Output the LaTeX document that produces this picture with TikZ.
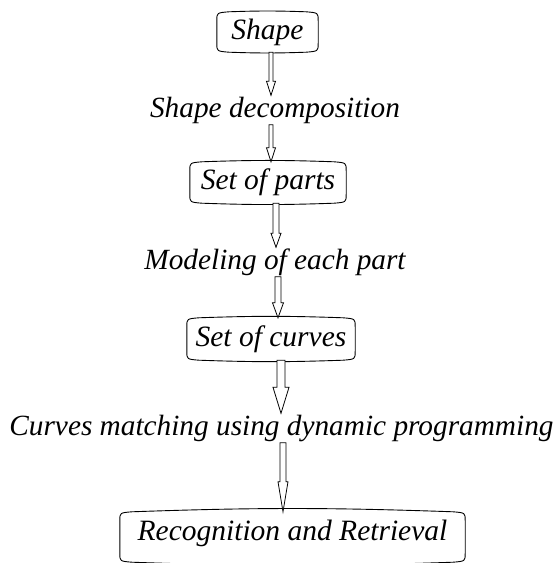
\documentclass[tikz,border=0pt]{standalone}
\usepackage{fontspec}
\setmainfont{Liberation Serif}
\usetikzlibrary{calc}
\tikzset{
  boxnode/.style={draw=none,inner sep=0pt,font=\fontsize{29.5}{32}\selectfont\itshape},
  lbl/.style={inner sep=0pt,text height=22pt,text depth=7pt,font=\fontsize{29.3}{32}\selectfont\itshape},
  boxline/.style={draw=black,line width=0.9pt},
  arrowline/.style={draw=black,fill=white,line width=0.8pt,line join=miter}
}
\newcommand\termbox[1]{%
  \draw[boxline] ([yshift=-9pt]#1.north west) .. controls ([yshift=-1pt]#1.north west) .. ([xshift=12pt]#1.north west)
    to[bend left=2] ([xshift=-12pt]#1.north east)
    .. controls ([yshift=-1pt]#1.north east) .. ([yshift=-9pt]#1.north east)
    -- ([yshift=9pt]#1.south east)
    .. controls ([yshift=1pt]#1.south east) .. ([xshift=-12pt]#1.south east)
    to[bend left=2] ([xshift=12pt]#1.south west)
    .. controls ([yshift=1pt]#1.south west) .. ([yshift=9pt]#1.south west) -- cycle;}
% #1 x, #2 from anchor, #3 to anchor, #4 shaft half, #5 head half, #6 head length
\newcommand\barrow[6]{%
  \draw[arrowline] let \p1=(#2), \p2=(#3) in
    (#1-#4,\y1) -- (#1-#4,\y2+#6) -- (#1-#5,\y2+#6) -- (#1,\y2) -- (#1+#5,\y2+#6) -- (#1+#4,\y2+#6) -- (#1+#4,\y1) -- cycle;}
\begin{document}
\begin{tikzpicture}[x=1pt,y=1pt]
\useasboundingbox (0,0) rectangle (557,563);
\node[boxnode,minimum width=101pt,minimum height=40pt] (shape) at (267.5,531) {Shape};
\node[lbl] (l1) at (275,453) {Shape decomposition};
\node[boxnode,minimum width=156pt,minimum height=41pt] (parts) at (268,380.5) {Set of parts};
\node[lbl] (l2) at (275,301) {Modeling of each part};
\node[boxnode,minimum width=168pt,minimum height=42pt] (curves) at (271,224) {Set of curves};
\node[lbl] (l3) at (281.5,135) {Curves matching using dynamic programming};
\node[boxnode,minimum width=345pt,minimum height=50pt] (recog) at (292.5,26) {};
\node[boxnode] (recogtxt) at (292.5,30) {Recognition and Retrieval};
\termbox{shape}
\termbox{parts}
\termbox{curves}
\termbox{recog}
\barrow{271pt}{shape.south}{l1.north}{2pt}{4.5pt}{14pt}
\barrow{271pt}{l1.south}{parts.north}{2pt}{4.5pt}{14pt}
\barrow{276pt}{parts.south}{l2.north}{3pt}{5pt}{14pt}
\barrow{278pt}{l2.south}{curves.north}{3pt}{5.5pt}{15pt}
\barrow{281pt}{curves.south}{l3.north}{4pt}{8pt}{26pt}
\barrow{283pt}{l3.south}{recog.north}{3pt}{5pt}{30pt}
\end{tikzpicture}
\end{document}
